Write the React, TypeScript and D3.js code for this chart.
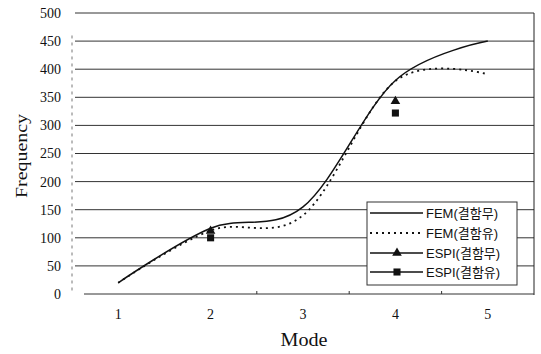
import React, { useRef, useEffect } from 'react';
import * as d3 from 'd3';

// modes on the x axis
const modes = [1, 2, 3, 4, 5];
const yTicks = [0, 50, 100, 150, 200, 250, 300, 350, 400, 450, 500];

// FEM curves (smoothed lines)
const femNoDefect = [20, 117, 155, 380, 450];
const femDefect = [20, 113, 140, 379, 391];
// ESPI measurements, only modes 2 and 4
const espiNoDefect = [null, 112, null, 343, null];
const espiDefect = [null, 100, null, 322, null];

const legendLabels = ['FEM(결함무)', 'FEM(결함유)', 'ESPI(결함무)', 'ESPI(결함유)'];

const W = 541;
const H = 354;

const App = () => {
    const ref = useRef<SVGSVGElement>(null);

    useEffect(() => {
        const svg = d3.select(ref.current);
        svg.selectAll('*').remove();

        const margin = { top: 13, right: 7, bottom: 60, left: 72 };
        const serif = "'Liberation Serif', 'Times New Roman', serif";

        const x = d3.scaleBand<number>()
            .domain(modes)
            .range([margin.left, W - margin.right]);
        const cx = (m: number) => (x(m) as number) + x.bandwidth() / 2;

        const y = d3.scaleLinear()
            .domain([0, 500])
            .range([H - margin.bottom, margin.top]);

        // gridlines
        svg.append('g')
            .selectAll('line')
            .data(yTicks.filter(t => t > 0))
            .enter().append('line')
            .attr('x1', margin.left + 3)
            .attr('x2', W - margin.right)
            .attr('y1', d => y(d))
            .attr('y2', d => y(d))
            .attr('stroke', '#333')
            .attr('stroke-width', 1);

        // left axis (dashed, faint)
        svg.append('line')
            .attr('x1', margin.left).attr('x2', margin.left)
            .attr('y1', y(460)).attr('y2', y(0))
            .attr('stroke', '#777')
            .attr('stroke-dasharray', '3,4');

        // right border
        svg.append('line')
            .attr('x1', W - margin.right).attr('x2', W - margin.right)
            .attr('y1', y(500)).attr('y2', y(0) + 1)
            .attr('stroke', '#222');

        // bottom axis
        const xAxis = svg.append('g')
            .attr('transform', `translate(0, ${y(0)})`)
            .call(d3.axisBottom(x).tickSize(0).tickFormat(d => String(d)));
        xAxis.attr('font-family', null);
        xAxis.select('.domain').attr('stroke', '#333').attr('d', `M${margin.left + 12},0H${W - margin.right}`);
        xAxis.selectAll('text')
            .style('font-family', serif)
            .style('font-size', '14px')
            .attr('fill', '#111')
            .attr('dy', '1.55em');
        // small inner ticks at band boundaries
        svg.append('g')
            .selectAll('line')
            .data(modes.slice(1, 4))
            .enter().append('line')
            .attr('x1', d => (x(d) as number) + x.bandwidth())
            .attr('x2', d => (x(d) as number) + x.bandwidth())
            .attr('y1', y(0))
            .attr('y2', y(0) - 3)
            .attr('stroke', '#333');

        // y tick labels
        svg.append('g')
            .selectAll('text')
            .data(yTicks)
            .enter().append('text')
            .attr('x', 61)
            .attr('y', d => y(d))
            .attr('dy', '0.35em')
            .attr('text-anchor', 'end')
            .style('font-family', serif)
            .style('font-size', '14px')
            .attr('fill', '#111')
            .text(d => d);

        // axis titles
        svg.append('text')
            .attr('x', 304).attr('y', 346)
            .attr('text-anchor', 'middle')
            .style('font-family', serif)
            .style('font-size', '18px')
            .attr('textLength', 47)
            .attr('lengthAdjust', 'spacingAndGlyphs')
            .attr('fill', '#111')
            .text('Mode');
        svg.append('text')
            .attr('transform', 'translate(27, 156) rotate(-90)')
            .attr('text-anchor', 'middle')
            .style('font-family', serif)
            .style('font-size', '17px')
            .attr('textLength', 84)
            .attr('lengthAdjust', 'spacingAndGlyphs')
            .attr('fill', '#111')
            .text('Frequency');

        // FEM lines
        const line = d3.line<number>()
            .x((d, i) => cx(modes[i]))
            .y(d => y(d))
            .curve(d3.curveCardinal.tension(0));

        svg.append('path')
            .attr('d', line(femNoDefect))
            .attr('fill', 'none')
            .attr('stroke', '#111')
            .attr('stroke-width', 1.5);
        svg.append('path')
            .attr('d', line(femDefect))
            .attr('fill', 'none')
            .attr('stroke', '#111')
            .attr('stroke-width', 1.8)
            .attr('stroke-dasharray', '2,4');

        // ESPI markers
        const tri = d3.symbol().type(d3.symbolTriangle).size(40);
        const sq = d3.symbol().type(d3.symbolSquare).size(50);
        svg.append('g')
            .selectAll('path')
            .data(espiNoDefect.map((v, i) => ({ v, m: modes[i] })).filter(d => d.v !== null))
            .enter().append('path')
            .attr('transform', d => `translate(${cx(d.m)}, ${y(d.v as number)})`)
            .attr('d', tri())
            .attr('fill', '#111');
        svg.append('g')
            .selectAll('path')
            .data(espiDefect.map((v, i) => ({ v, m: modes[i] })).filter(d => d.v !== null))
            .enter().append('path')
            .attr('transform', d => `translate(${cx(d.m)}, ${y(d.v as number)})`)
            .attr('d', sq())
            .attr('fill', '#111');

        // legend
        const lg = svg.append('g').attr('transform', 'translate(367, 202)');
        lg.append('rect')
            .attr('width', 150).attr('height', 83)
            .attr('fill', '#fff')
            .attr('stroke', '#333');
        const rowY = [11, 31, 51, 70];
        legendLabels.forEach((label, i) => {
            const row = lg.append('g').attr('transform', `translate(0, ${rowY[i]})`);
            row.append('line')
                .attr('x1', 3).attr('x2', 56)
                .attr('stroke', '#111')
                .attr('stroke-width', i === 1 ? 1.8 : 1.5)
                .attr('stroke-dasharray', i === 1 ? '2,4' : null);
            if (i === 2) row.append('path').attr('transform', 'translate(30,0)').attr('d', tri()).attr('fill', '#111');
            if (i === 3) row.append('path').attr('transform', 'translate(30,0)').attr('d', sq()).attr('fill', '#111');
            row.append('text')
                .attr('x', 59)
                .attr('dy', '0.36em')
                .style('font-family', "'Liberation Sans', 'Noto Sans CJK KR', sans-serif")
                .style('font-size', '13px')
                .attr('fill', '#111')
                .text(label);
        });
    }, []);

    return (
        <svg ref={ref} width={W} height={H}
            style={{ position: 'absolute', left: 0, top: 0, background: '#fff' }} />
    );
};

export default App;
